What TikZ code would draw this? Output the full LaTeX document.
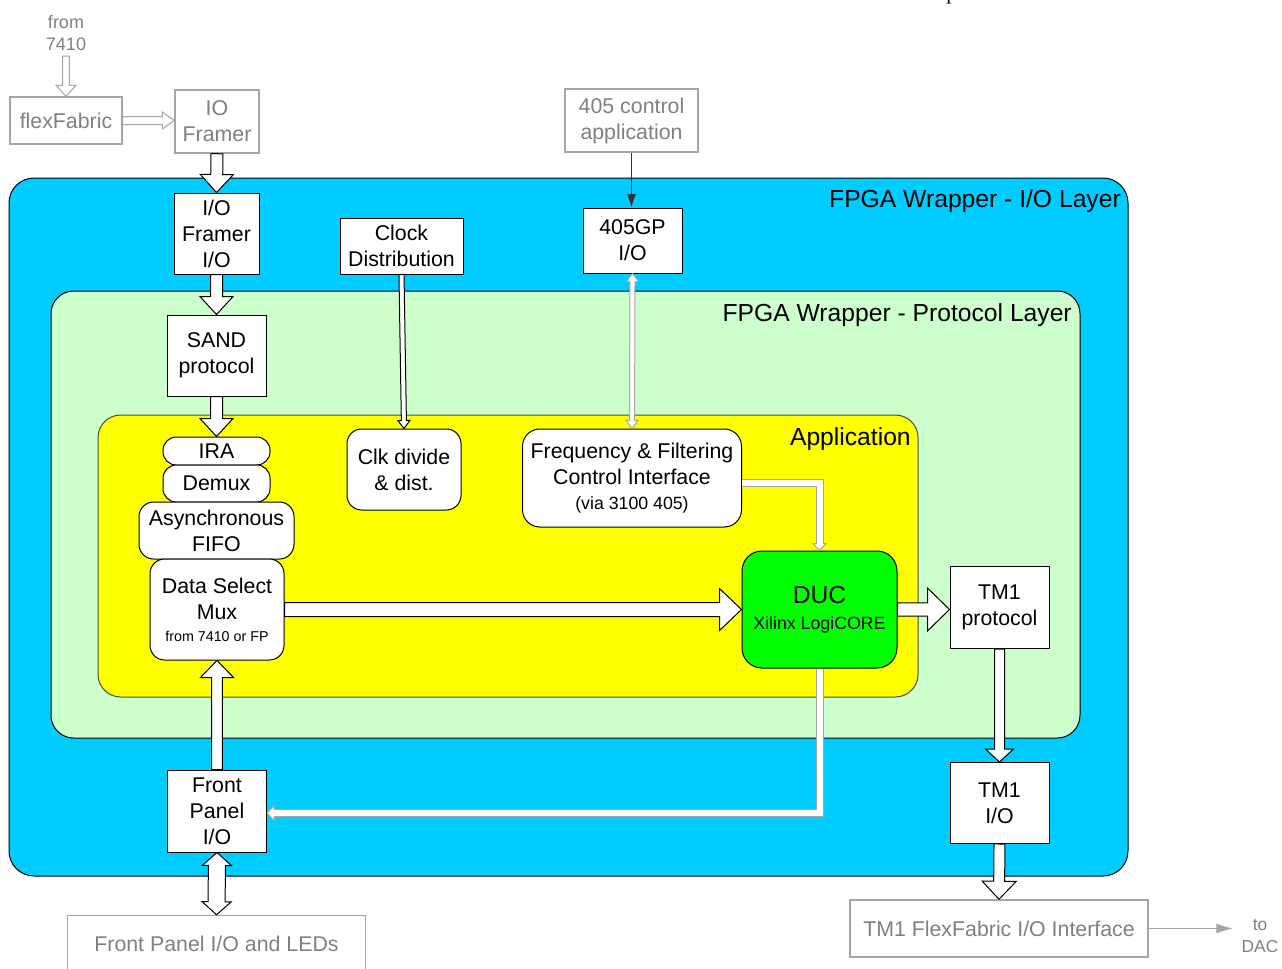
\documentclass[tikz,border=0pt]{standalone}
\usepackage{fontspec}
\setmainfont{Liberation Sans}
\newfontfamily\seriff{Liberation Serif}
\usetikzlibrary{calc,arrows.meta}
\definecolor{ioblue}{HTML}{00CCFF}
\definecolor{protgreen}{HTML}{CCFFCC}
\definecolor{appyellow}{HTML}{FFFF00}
\definecolor{ducgreen}{HTML}{00FF00}
\definecolor{gline}{HTML}{A6A6A6}
\definecolor{gtext}{HTML}{808080}
\definecolor{darr}{HTML}{333333}
% straight hollow arrow: [style]{from}{to}{half shaft}{half head}{head length}
\newcommand\harrow[6][hol]{%
  \path (#2) coordinate (ha) (#3) coordinate (hb);
  \path ($(hb)!#6!(ha)$) coordinate (hc);
  \filldraw[#1] ($(ha)!#4!90:(hb)$) -- ($(hc)!#4!90:(hb)$) -- ($(hc)!#5!90:(hb)$) -- (hb)
    -- ($(hc)!#5!-90:(hb)$) -- ($(hc)!#4!-90:(hb)$) -- ($(ha)!#4!-90:(hb)$) -- cycle;
}
% double-headed hollow arrow
\newcommand\dharrow[6][hol]{%
  \path (#2) coordinate (ha) (#3) coordinate (hb);
  \path ($(hb)!#6!(ha)$) coordinate (hc) ($(ha)!#6!(hb)$) coordinate (hd);
  \filldraw[#1] (ha) -- ($(hd)!#5!90:(hb)$) -- ($(hd)!#4!90:(hb)$) -- ($(hc)!#4!90:(hb)$)
    -- ($(hc)!#5!90:(hb)$) -- (hb) -- ($(hc)!#5!-90:(hb)$) -- ($(hc)!#4!-90:(hb)$)
    -- ($(hd)!#4!-90:(hb)$) -- ($(hd)!#5!-90:(hb)$) -- cycle;
}
% open head for an elbow shaft: [style]{head base}{tip}{half shaft}{half head}
\newcommand\elbowhead[5][holg]{%
  \path (#2) coordinate (ea) (#3) coordinate (eb);
  \filldraw[#1] ($(ea)!#4!90:(eb)$) -- ($(ea)!#5!90:(eb)$) -- (eb) -- ($(ea)!#5!-90:(eb)$) -- ($(ea)!#4!-90:(eb)$);
}
\begin{document}
\begin{tikzpicture}[x=0.75pt,y=-0.75pt,
  base/.style={font=\fontsize{16}{19.5}\selectfont, align=center, inner sep=0pt},
  sz/.style 2 args={minimum width=#1*0.75pt, minimum height=#2*0.75pt},
  wbox/.style={base, draw=black, line width=0.75pt, fill=white},
  rbox/.style={wbox, rounded corners=#1},
  gbox/.style={base, draw=gline, line width=1.1pt, fill=white, text=gtext},
  gtxt/.style={inner sep=0pt, align=center, text=gtext, font=\fontsize{13.5}{16.5}\selectfont},
  region/.style={draw=black, line width=0.75pt, rounded corners=#1},
  rlabel/.style={inner sep=0pt, anchor=east, font=\fontsize{18.5}{22}\selectfont},
  hol/.style={fill=white, draw=black, line width=0.75pt},
  holg/.style={fill=white, draw=gline, line width=0.75pt},
  eshaft/.style={draw=gline, line width=0.75pt, double=white, double distance=4.5pt}
]
\useasboundingbox (0,0) rectangle (1282,968);
\fill[white] (0,0) rectangle (1282,968);

% cropped fragment at the top (as in the reference)
\node[inner sep=0pt, anchor=base west, font=\seriff\fontsize{16}{16}\selectfont] (frag) at (946,-1) {p};

% regions
\filldraw[region=18.75pt, fill=ioblue] (9,178) rectangle (1128,876);
\node[rlabel] (lio) at (1121,201) {FPGA Wrapper - I/O Layer};
\filldraw[region=17pt, fill=protgreen] (51,291) rectangle (1080,738);
\node[rlabel] (lprot) at (1072,315) {FPGA Wrapper - Protocol Layer};
\filldraw[region=17pt, fill=appyellow, draw=black!70] (98,415) rectangle (918,697);
\node[rlabel] (lapp) at (911,439) {Application};

% outside elements
\node[gtxt] (from) at (66,33) {from\\7410};
\node[gbox, sz={112}{47}] (flex) at (66,120.5) {flexFabric};
\node[gbox, sz={84}{63}] (ioframer) at (217,121.5) {IO\\Framer};
\node[gbox, sz={133}{63}] (ctrl405) at (631.5,120.5) {405 control\\application};
\node[gbox, sz={298}{57}] (leds) at (216.5,944) {Front Panel I/O and LEDs};
\node[gbox, sz={298}{57}] (tm1ff) at (999,928.5) {TM1 FlexFabric I/O Interface};
\node[gtxt, font=\fontsize{13}{16.5}\selectfont] (todac) at (1260,936) {to\\DAC};
\coordinate (dacend) at (1233,928);

% I/O layer boxes
\node[wbox, sz={85}{81}] (iofio) at (216.5,233.5) {I/O\\Framer\\I/O};
\node[wbox, sz={123}{56}] (clock) at (401.5,246) {Clock\\Distribution};
\node[wbox, sz={99}{65}] (gp405) at (632.5,240.5) {405GP\\I/O};
\node[wbox, sz={99}{82}] (front) at (217,811) {Front\\Panel\\I/O};
\node[wbox, sz={99}{81}] (tm1io) at (999.5,803) {TM1\\I/O};

% protocol layer boxes
\node[wbox, sz={99}{81}] (sand) at (216.5,355.5) {SAND\\protocol};
\node[wbox, sz={99}{82}] (tm1p) at (999.5,607.5) {TM1\\protocol};

% application boxes
\node[rbox=10pt, sz={107}{28}] (ira) at (216.5,451) {IRA};
\node[rbox=10pt, sz={107}{37}] (demux) at (216.5,483.5) {Demux};
\node[rbox=11pt, sz={155}{57}] (fifo) at (216.5,530.5) {Asynchronous\\FIFO};
\node[rbox=11pt, sz={134}{101}] (dsm) at (217,609.5) {Data Select\\Mux\\[-3pt]{\fontsize{10.7}{13}\selectfont from 7410 or FP}};
\node[rbox=11pt, sz={114}{81}] (clkdiv) at (404,469.5) {Clk divide\\\& dist.};
\node[rbox=13pt, sz={219}{98}] (freq) at (632,478) {Frequency \& Filtering\\Control Interface\\[-1pt]{\fontsize{13.3}{15}\selectfont (via 3100 405)}};
\node[rbox=15pt, sz={155}{117}, fill=ducgreen] (duc) at (819.5,609.5) {{\fontsize{18.5}{22}\selectfont DUC}\\{\fontsize{13.3}{15}\selectfont Xilinx LogiCORE}};

% connectors
\harrow[holg]{[yshift=-4pt]from.south}{flex.north}{2.6pt}{7.5pt}{8.25pt}
\harrow[holg]{flex.east}{flex.east -| ioframer.west}{3pt}{6.4pt}{9pt}
\harrow{ioframer.south}{iofio.north}{4.5pt}{12.4pt}{13.5pt}
\harrow{iofio.south}{sand.north}{4.5pt}{12.4pt}{13.5pt}
\harrow{sand.south}{ira.north}{4.5pt}{12.4pt}{13.5pt}
\harrow{clock.south}{clkdiv.north}{1.9pt}{4.5pt}{6pt}
\dharrow[holg]{gp405.south}{freq.north}{1.9pt}{4.5pt}{6pt}
\harrow{dsm.east}{duc.west}{5.25pt}{15.75pt}{16.5pt}
\harrow{duc.east}{duc.east -| tm1p.west}{4.9pt}{16.1pt}{16.5pt}
\harrow{tm1p.south}{tm1io.north}{3.75pt}{10.5pt}{9.75pt}
\harrow{tm1io.south}{tm1ff.north}{4.1pt}{12.75pt}{13.5pt}
\harrow{front.north}{dsm.south}{4.1pt}{12.4pt}{12.75pt}
\dharrow{front.south}{leds.north}{6.4pt}{10.9pt}{9.75pt}

\draw[eshaft] ([yshift=-3.75pt]freq.east) -| ([yshift=5.25pt]duc.north);
\elbowhead{[yshift=5.25pt]duc.north}{duc.north}{2.6pt}{4.9pt}
\draw[eshaft] (duc.south) |- ([xshift=5.25pt,yshift=-1.5pt]front.east);
\elbowhead{[xshift=5.25pt,yshift=-1.5pt]front.east}{[yshift=-1.5pt]front.east}{2.6pt}{5.6pt}

\draw[darr, line width=1.1pt, -{Latex[length=10pt,width=7pt]}] (ctrl405.south) -- (ctrl405.south |- gp405.north);
\draw[gline, line width=1pt, -{Latex[length=12.5pt,width=7.5pt]}] (tm1ff.east) -- (tm1ff.east -| dacend);
\end{tikzpicture}
\end{document}
